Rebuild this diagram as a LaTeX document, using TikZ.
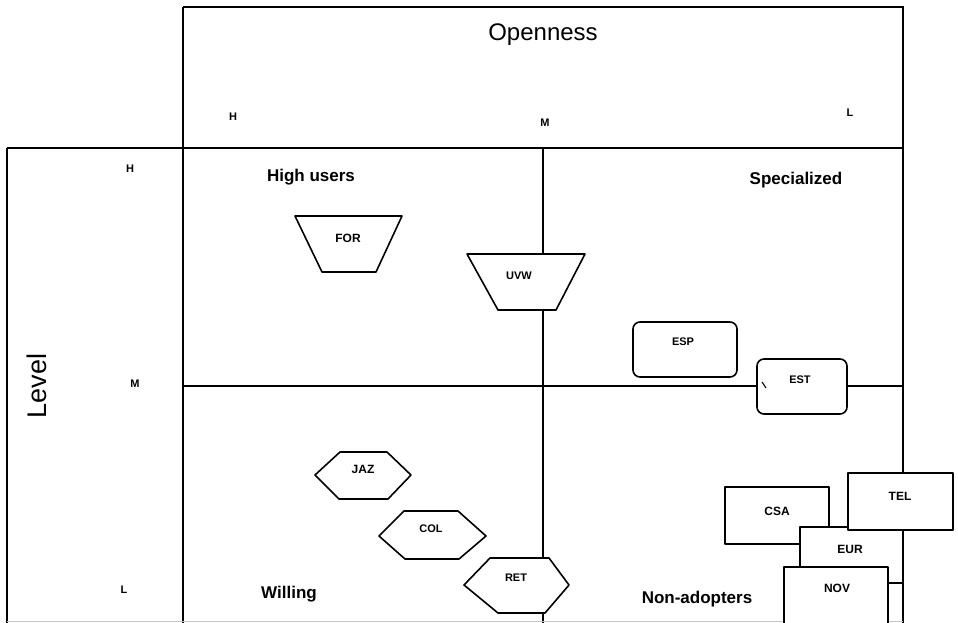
\documentclass[tikz,border=0pt]{standalone}
\usepackage{fontspec}
\setmainfont{Liberation Sans}
\begin{document}
\begin{tikzpicture}[x=1pt,y=-1pt,
  frame/.style={line width=1.6pt,black},
  shp/.style={line width=1.6pt,draw=black,fill=white,line join=round},
  lvl/.style={font=\fontsize{11}{13}\selectfont\bfseries,inner sep=0pt},
  quad/.style={font=\fontsize{17}{20}\selectfont\bfseries,inner sep=0pt},
  lab/.style={font=\fontsize{12}{14}\selectfont\bfseries,inner sep=0pt},
  labs/.style={font=\fontsize{11}{13}\selectfont\bfseries,inner sep=0pt}]
\useasboundingbox (0,0) rectangle (958,622);
\clip (0,0) rectangle (958,622);
\fill[white] (0,0) rectangle (958,622);
% frame
\draw[frame] (183,7) -- (903,7) -- (903,625);
\draw[frame] (183,7) -- (183,625);
\draw[frame] (7,148) -- (903,148);
\draw[frame] (7,148) -- (7,625);
\draw[frame] (543,148) -- (543,625);
\draw[frame] (183,386) -- (903,386);
\draw[gray!45,line width=1pt] (7,621) -- (903,621);
% axis titles
\node (open) at (543,35) {\fontsize{24}{28}\selectfont Openness};
\node[rotate=90] (level) at (37,386) {\fontsize{27}{30}\selectfont Level};
\node[lvl] (th) at (233,117) {H};
\node[lvl] (tm) at (545,123) {M};
\node[lvl] (tl) at (850,113) {L};
\node[lvl] (lh) at (130,169) {H};
\node[lvl] (lm) at (135,384) {M};
\node[lvl] (ll) at (124,590) {L};
% quadrant labels
\node[quad] (hu) at (311,177) {High users};
\node[quad] (sp) at (796,180) {Specialized};
\node[quad] (wi) at (289,594) {Willing};
\node[quad] (na) at (697,599) {Non-adopters};
% trapezoids
\draw[shp] (295,216) -- (402,216) -- (376,272) -- (322,272) -- cycle;
\node[lab] (for) at (348,238) {FOR};
\draw[shp] (467,254) -- (585,254) -- (556,310) -- (498,310) -- cycle;
\node[labs] (uvw) at (519,276) {UVW};
% rounded boxes
\draw[shp,rounded corners=7pt] (633,322) rectangle (737,377);
\node[labs] (esp) at (683,342) {ESP};
\draw[shp,rounded corners=7pt] (757,359) rectangle (847,414);
\node[labs] (est) at (800,380) {EST};
\draw[line width=1pt] (762,382) -- (766,388);
% hexagons
\draw[shp] (315,475) -- (340,452) -- (387,452) -- (411,475) -- (388,499) -- (339,499) -- cycle;
\node[lab] (jaz) at (363,469) {JAZ};
\draw[shp] (379,536) -- (404,511) -- (458,511) -- (486,536) -- (459,559) -- (405,559) -- cycle;
\node[labs] (col) at (431,529) {COL};
\draw[shp] (464,585) -- (490,558) -- (549,558) -- (569,585) -- (545,613) -- (498,613) -- cycle;
\node[labs] (ret) at (516,578) {RET};
% rectangles
\draw[shp] (725,487) rectangle (829,544);
\node[lab] (csa) at (777,511) {CSA};
\draw[shp] (800,527) rectangle (903,583);
\node[lab] (eur) at (850,549) {EUR};
\draw[shp] (848,473) rectangle (953,530);
\node[lab] (tel) at (900,496) {TEL};
\draw[shp] (784,567) rectangle (888,630);
\node[lab] (nov) at (837,588) {NOV};
\end{tikzpicture}
\end{document}
